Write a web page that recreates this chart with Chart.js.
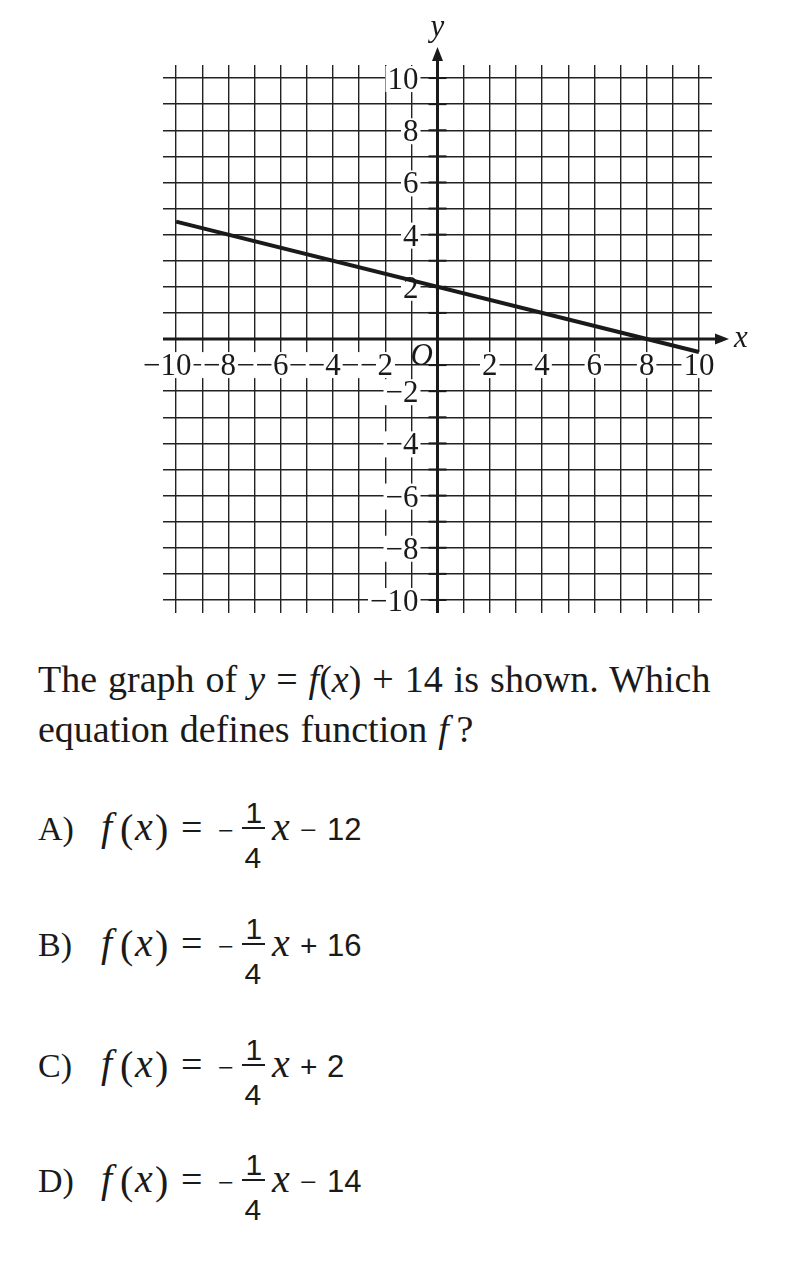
<!DOCTYPE html>
<html>
<head>
<meta charset="utf-8">
<script src="https://cdn.jsdelivr.net/npm/chart.js@4/dist/chart.umd.min.js"></script>
<style>
  body { margin: 0; background: #fff; }
  #page { position: relative; width: 812px; height: 1262px; color: #1a1a1a; }
  #graph { position: absolute; left: 0; top: 0; }
  #question { position: absolute; left: 38px; top: 654px; font: 38px "Liberation Serif", serif; line-height: 50px; word-spacing: 1.5px; white-space: nowrap; }
</style>
</head>
<body>
<div id="page">
  <canvas id="graph" width="812" height="640"></canvas>
  <div id="question">The graph of <i>y</i> = <i>f</i>(<i>x</i>) + 14 is shown. Which<br>equation defines function <i>f</i>&#8201;?</div>
</div>
<script>
// line y = f(x) + 14 as drawn
const lineX = [-10, 10]
const lineY = [4.5, -0.5]

const gridValues = [-10, -9, -8, -7, -6, -5, -4, -3, -2, -1, 0, 1, 2, 3, 4, 5, 6, 7, 8, 9, 10]
const xTickValues = [-10, -8, -6, -4, -2, 2, 4, 6, 8, 10]
const xTickLabels = ['−10', '−8', '−6', '−4', '−2', '2', '4', '6', '8', '10']
const yTickValues = [10, 8, 6, 4, 2, -2, -4, -6, -8, -10]
const yTickLabels = ['10', '8', '6', '4', '2', '−2', '−4', '−6', '−8', '−10']

// answer choices
const choiceLetters = ['A)', 'B)', 'C)', 'D)']
const choiceSigns = ['−', '+', '+', '−']
const choiceConstants = ['12', '16', '2', '14']

const INK = '#1a1a1a'
const LABEL_FONT = '31px "Liberation Serif"'
const ITALIC_FONT = 'italic 31px "Liberation Serif"'

function boxedText(ctx, text, left, base) {
  const w = ctx.measureText(text).width
  ctx.fillStyle = '#fff'
  ctx.fillRect(left - 2, base - 23, w + 4, 26)
  ctx.fillStyle = INK
  ctx.fillText(text, left, base)
}

const axesPlugin = {
  id: 'axes',
  beforeDatasetsDraw(chart) {
    const { ctx, chartArea: a, scales: { x, y } } = chart
    const ox = x.getPixelForValue(0)
    const oy = y.getPixelForValue(0)
    ctx.save()
    ctx.strokeStyle = INK
    ctx.fillStyle = INK

    // short ticks on the y axis
    ctx.lineWidth = 2
    gridValues.forEach(v => {
      if (v === 0) return
      const py = y.getPixelForValue(v)
      ctx.beginPath()
      ctx.moveTo(ox - 9, py); ctx.lineTo(ox + 9, py)
      ctx.stroke()
    })

    // axes with arrows
    ctx.lineWidth = 3
    ctx.beginPath()
    ctx.moveTo(a.left, oy); ctx.lineTo(a.right + 6, oy)
    ctx.moveTo(ox, a.bottom); ctx.lineTo(ox, a.top - 6)
    ctx.stroke()
    ctx.beginPath()
    ctx.moveTo(a.right + 17, oy); ctx.lineTo(a.right + 3, oy - 5.5); ctx.lineTo(a.right + 3, oy + 5.5)
    ctx.closePath(); ctx.fill()
    ctx.beginPath()
    ctx.moveTo(ox, a.top - 18); ctx.lineTo(ox - 5.5, a.top - 4); ctx.lineTo(ox + 5.5, a.top - 4)
    ctx.closePath(); ctx.fill()

    // tick labels
    ctx.font = LABEL_FONT
    ctx.textBaseline = 'alphabetic'
    ctx.textAlign = 'left'
    const xBase = y.getPixelForValue(-1) + 10
    xTickValues.forEach((v, i) => {
      const t = xTickLabels[i]
      const dw = ctx.measureText(t.replace('−', '')).width
      const fw = ctx.measureText(t).width
      const right = x.getPixelForValue(v) + dw / 2
      boxedText(ctx, t, right - fw, xBase)
    })
    yTickValues.forEach((v, i) => {
      const t = yTickLabels[i]
      const fw = ctx.measureText(t).width
      boxedText(ctx, t, ox - 19 - fw, y.getPixelForValue(v) + 11)
    })

    ctx.font = ITALIC_FONT
    ctx.fillStyle = INK
    ctx.fillText('O', ox - 27, oy + 26)
    ctx.fillText('x', a.right + 22, oy + 8)
    ctx.textAlign = 'center'
    ctx.fillText('y', ox, a.top - 29)
    ctx.restore()
  }
}

function gridScale() {
  return {
    type: 'linear',
    min: -10.5,
    max: 10.5,
    afterBuildTicks: s => { s.ticks = gridValues.map(v => ({ value: v })) },
    grid: { color: '#222', lineWidth: 1.4, drawTicks: false },
    border: { display: false },
    ticks: { display: false },
  }
}

new Chart(document.getElementById('graph'), {
  type: 'scatter',
  data: {
    datasets: [
      {
        data: lineX.map((v, i) => ({ x: v, y: lineY[i] })),
        showLine: true,
        borderColor: INK,
        borderWidth: 4,
        pointRadius: 0,
      },
    ],
  },
  options: {
    responsive: false,
    animation: false,
    devicePixelRatio: 1,
    layout: { padding: { left: 163, right: 100, top: 65, bottom: 27 } },
    plugins: { legend: { display: false }, tooltip: { enabled: false } },
    scales: { x: gridScale(), y: gridScale() },
  },
  plugins: [axesPlugin],
})

// answer rows as html text
const page = document.getElementById('page')
const SERIF = '"Liberation Serif", serif'
const SANS = '"Liberation Sans", Arial, sans-serif'

function place(text, left, base, size, family, style) {
  const s = document.createElement('span')
  s.textContent = text
  const asc = family === SANS ? 0.8465 : 0.8375
  s.style.cssText = `position:absolute;left:${left}px;top:${base - asc * size}px;font:${style || 'normal'} ${size}px ${family};line-height:1;white-space:pre`
  page.appendChild(s)
  return s
}

function placeCentered(text, center, base, size, family) {
  const s = place(text, 0, base, size, family)
  s.style.left = (center - s.offsetWidth / 2) + 'px'
}

const rowBaselines = [840, 956, 1077, 1192]
choiceLetters.forEach((letter, i) => {
  const b = rowBaselines[i]
  place(letter, 38, b, 34, SERIF)
  place('f', 101, b, 40, SERIF, 'italic')
  place('(', 120, b + 2, 40, SERIF)
  place('x', 135, b, 40, SERIF, 'italic')
  place(')', 155, b + 2, 40, SERIF)
  place('=', 181, b, 38, SERIF)
  place('−', 218, b, 28, SERIF)
  const bar = document.createElement('div')
  bar.style.cssText = `position:absolute;left:242px;width:23px;top:${b - 13}px;height:2px;background:${INK}`
  page.appendChild(bar)
  placeCentered('1', 254, b - 17, 30, SANS)
  placeCentered('4', 253, b + 28, 30, SANS)
  place('x', 272, b, 40, SERIF, 'italic')
  place(choiceSigns[i], 300, b, 30, choiceSigns[i] === '−' ? SERIF : SANS)
  place(choiceConstants[i], 327, b, 31, SANS)
})
</script>
</body>
</html>
